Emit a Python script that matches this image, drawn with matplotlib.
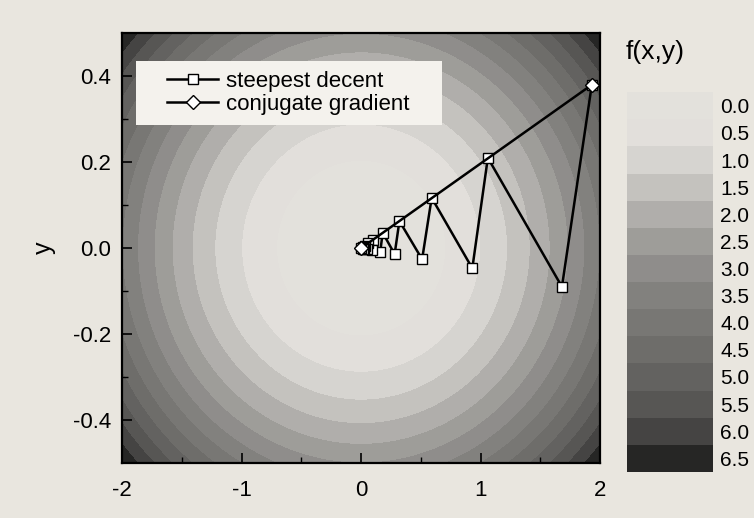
import numpy as np
import matplotlib
matplotlib.use("Agg")
import matplotlib.pyplot as plt
from matplotlib.colors import ListedColormap, BoundaryNorm
from matplotlib.patches import Rectangle

plt.rcParams["font.family"] = ["Liberation Sans", "DejaVu Sans"]
plt.rcParams["axes.unicode_minus"] = False

# objective f(x, y) = x^2 + a*y^2 shown as filled contours
y_weight = 12.0
levels = [0.0, 0.5, 1.0, 1.5, 2.0, 2.5, 3.0, 3.5, 4.0, 4.5, 5.0, 5.5, 6.0, 6.5, 7.5]
level_labels = ["0.0", "0.5", "1.0", "1.5", "2.0", "2.5", "3.0",
                "3.5", "4.0", "4.5", "5.0", "5.5", "6.0", "6.5"]
band_grays = [0.89, 0.885, 0.84, 0.77, 0.69, 0.62, 0.56,
              0.51, 0.47, 0.43, 0.39, 0.34, 0.27, 0.15]

# steepest descent iterates
sd_x = [1.93, 1.68, 1.06, 0.93, 0.59, 0.51, 0.32, 0.28, 0.18, 0.16,
        0.10, 0.09, 0.055, 0.05, 0.03, 0.027, 0.016, 0.015, 0.0]
sd_y = [0.38, -0.09, 0.21, -0.047, 0.117, -0.026, 0.063, -0.014, 0.036, -0.008,
        0.02, -0.004, 0.011, -0.002, 0.006, -0.001, 0.003, -0.001, 0.0]

# conjugate gradient iterates
cg_x = [1.93, 0.0]
cg_y = [0.38, 0.0]

paper = "#e9e6df"

fig = plt.figure(figsize=(7.54, 5.18), dpi=100, facecolor=paper)
ax = fig.add_axes([0.162, 0.106, 0.634, 0.830])

gx = np.linspace(-2, 2, 600)
gy = np.linspace(-0.5, 0.5, 400)
X, Y = np.meshgrid(gx, gy)
F = X**2 + y_weight * Y**2

cmap = ListedColormap([(g, g * 0.99, g * 0.97) for g in band_grays])
norm = BoundaryNorm(levels, cmap.N)
cs = ax.contourf(X, Y, F, levels=levels, cmap=cmap, norm=norm)

ax.plot(sd_x, sd_y, color="black", linewidth=1.8, marker="s",
        markersize=6.5, markerfacecolor="white", markeredgecolor="black",
        markeredgewidth=1.0, label="steepest decent", zorder=3)
ax.plot(cg_x, cg_y, color="black", linewidth=1.8, marker="D",
        markersize=7, markerfacecolor="white", markeredgecolor="black",
        markeredgewidth=1.0, label="conjugate gradient", zorder=4)

ax.set_xlim(-2, 2)
ax.set_ylim(-0.5, 0.5)
ax.set_xticks([-2, -1, 0, 1, 2])
ax.set_yticks([-0.4, -0.2, 0.0, 0.2, 0.4])
ax.set_yticklabels(["-0.4", "-0.2", "0.0", "0.2", "0.4"])
ax.set_xticks([-1.5, -0.5, 0.5, 1.5], minor=True)
ax.set_yticks([-0.3, -0.1, 0.1, 0.3], minor=True)
ax.tick_params(which="major", direction="in", length=7, width=1.2,
               labelsize=16, pad=8)
ax.tick_params(axis="x", which="major", pad=12)
ax.tick_params(which="minor", direction="in", length=4, width=1.0)
for s in ax.spines.values():
    s.set_linewidth(1.6)
ax.set_ylabel("y", fontsize=18, labelpad=12)

# white legend box, then the legend entries on it
ax.add_patch(Rectangle((0.029, 0.786), 0.640, 0.149, transform=ax.transAxes,
                       facecolor="#f4f2ed", edgecolor="none", zorder=5))
leg = ax.legend(loc="upper left", bbox_to_anchor=(0.094, 0.912), fontsize=16,
                handlelength=2.3, handletextpad=0.35, borderpad=0.0,
                borderaxespad=0.0, labelspacing=0.1, frameon=False)
leg.set_zorder(6)

# colour legend on the right, one equal block per level
cax = fig.add_axes([0.832, 0.089, 0.114, 0.733])
cb = fig.colorbar(cs, cax=cax, spacing="uniform")
cb.outline.set_visible(False)
cb.ax.invert_yaxis()
cb.ax.minorticks_off()
centers = [(levels[i] + levels[i + 1]) / 2 for i in range(len(level_labels))]
cb.set_ticks(centers)
cb.set_ticklabels(level_labels)
cb.ax.tick_params(length=0, labelsize=15, pad=5)

fig.text(0.830, 0.90, "f(x,y)", fontsize=19, ha="left", va="center")

fig.savefig("out.png", dpi=100, facecolor=paper)
